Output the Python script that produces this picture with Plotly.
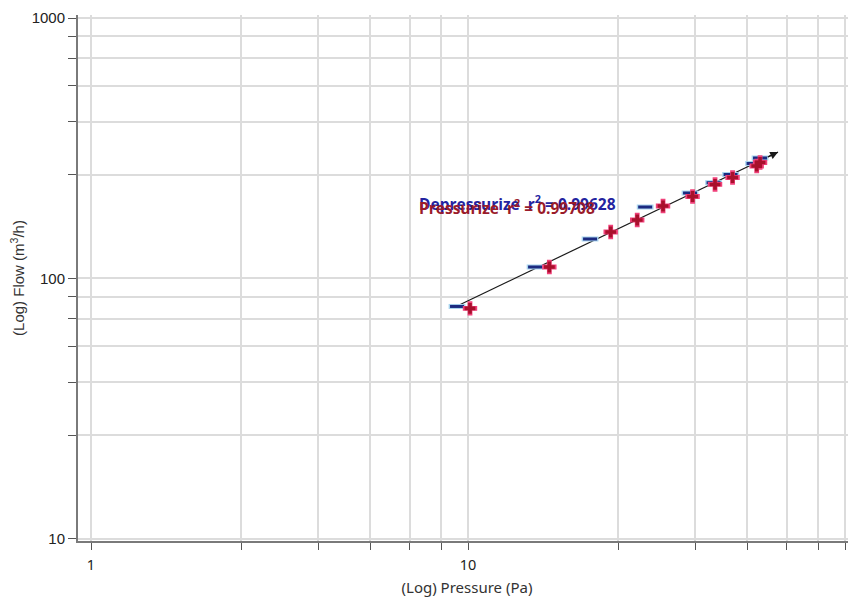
import math
import plotly.graph_objects as go

# ---- data ----
press_x = [10.12, 16.43, 23.9, 28.1, 32.9, 39.4, 45.2, 50.3, 58.3, 59.5]
press_y = [76.8, 110.7, 150.8, 167.7, 189.8, 206.4, 229.6, 244.2, 270.3, 278.8]

depress_x = [9.35, 15.06, 21.07, 29.5, 38.8, 44.8, 49.7, 57.2, 59.5]
depress_y = [78.1, 110.7, 141.8, 188.1, 212.9, 233.2, 250.7, 276.4, 290.1]

# power-law fit Q = C * P^n, drawn between these pressures
fit_C = 16.62
fit_n = 0.694
fit_x = [9.24, 66.4]

press_r2 = 0.99708
depress_r2 = 0.99628

x_ticks = [1, 2.5, 4, 5.5, 7, 8.5, 10, 25, 40, 55, 70, 85, 100]
x_labels = ["1", "", "", "", "", "", "10", "", "", "", "", "", "100"]
y_ticks = [10, 25, 40, 55, 70, 85, 100, 250, 400, 550, 700, 850, 1000]
y_labels = ["10", "", "", "", "", "", "100", "", "", "", "", "", "1000"]

fit_y = [fit_C * p ** fit_n for p in fit_x]

fig = go.Figure()

# fit line
fig.add_trace(go.Scatter(x=fit_x, y=fit_y, mode="lines",
                         line=dict(color="#1a1a1a", width=1.2),
                         hoverinfo="skip", showlegend=False))

# depressurize: light blue shade + dark blue dash
fig.add_trace(go.Scatter(x=depress_x, y=depress_y, mode="markers",
                         marker=dict(symbol="line-ew", size=12,
                                     line=dict(color="#a8d4ee", width=5)),
                         showlegend=False))
fig.add_trace(go.Scatter(x=depress_x, y=depress_y, mode="markers",
                         marker=dict(symbol="line-ew", size=10,
                                     line=dict(color="#1c2a80", width=3)),
                         name="Depressurize", showlegend=False))

# pressurize: pink shade + dark red plus
fig.add_trace(go.Scatter(x=press_x, y=press_y, mode="markers",
                         marker=dict(symbol="cross", size=12, color="#f0407a",
                                     line=dict(width=0)),
                         showlegend=False))
fig.add_trace(go.Scatter(x=press_x, y=press_y, mode="markers",
                         marker=dict(symbol="cross", size=9, color="#a8102c",
                                     line=dict(width=0)),
                         name="Pressurize", showlegend=False))

# arrow head at end of fit line
fig.add_annotation(x=math.log10(fit_x[1]), y=math.log10(fit_y[1]),
                   ax=math.log10(fit_x[1] * 0.93), ay=math.log10(fit_C * (fit_x[1] * 0.93) ** fit_n),
                   xref="x", yref="y", axref="x", ayref="y",
                   showarrow=True, arrowhead=2, arrowsize=1.3, arrowwidth=1.2,
                   arrowcolor="#1a1a1a", text="")

# page body adds 8px offset; plot area spans x 78..856, y 15..541 in the window
PL, PT, PW, PH = 78, 15, 778, 526

# r² labels
fig.add_annotation(x=(417 - PL) / PW, y=(PT + PH - 203) / PH, xref="paper", yref="paper",
                   xanchor="left", yanchor="middle", showarrow=False,
                   text=f"Depressurize  r<sup>2</sup> = {depress_r2:.5f}",
                   font=dict(family="Open Sans", size=15.5, color="#2323a0", weight="bold"))
fig.add_annotation(x=(417 - PL) / PW, y=(PT + PH - 207) / PH, xref="paper", yref="paper",
                   xanchor="left", yanchor="middle", showarrow=False,
                   text=f"Pressurize  r<sup>2</sup> = {press_r2:.5f}",
                   font=dict(family="Open Sans", size=15.5, color="#9a1b2a", weight="bold"))

fig.update_layout(
    width=848, height=590,
    margin=dict(l=PL - 8, r=0, t=PT - 8, b=590 - (PT - 8) - PH, autoexpand=False),
    paper_bgcolor="white", plot_bgcolor="white",
    showlegend=False,
    xaxis=dict(type="log", range=[-0.0345, 2.029], automargin=False,
               tickmode="array", tickvals=x_ticks, ticktext=x_labels,
               showgrid=True, gridcolor="#dcdcdc", gridwidth=1.5,
               showline=True, linecolor="#7a7a7a", linewidth=2,
               ticks="outside", ticklen=7, tickcolor="#555555", tickwidth=1,
               ticklabelstandoff=3,
               tickfont=dict(family="Noto Sans", size=14.5, color="#222222"),
               zeroline=False,
               title=dict(text="(Log) Pressure (Pa)", standoff=9,
                          font=dict(family="Noto Sans", size=15, color="#333333"))),
    yaxis=dict(type="log", range=[0.9923, 3.0115], automargin=False,
               tickmode="array", tickvals=y_ticks, ticktext=y_labels,
               showgrid=True, gridcolor="#dcdcdc", gridwidth=1.5,
               showline=True, linecolor="#7a7a7a", linewidth=2,
               ticks="outside", ticklen=8, tickcolor="#555555", tickwidth=1,
               tickfont=dict(family="Liberation Sans", size=15, color="#222222"),
               zeroline=False,
               title=dict(text="(Log) Flow (m<sup>3</sup>/h)", standoff=12,
                          font=dict(family="Liberation Sans", size=15, color="#333333"))),
)

fig.write_html("out.html")
